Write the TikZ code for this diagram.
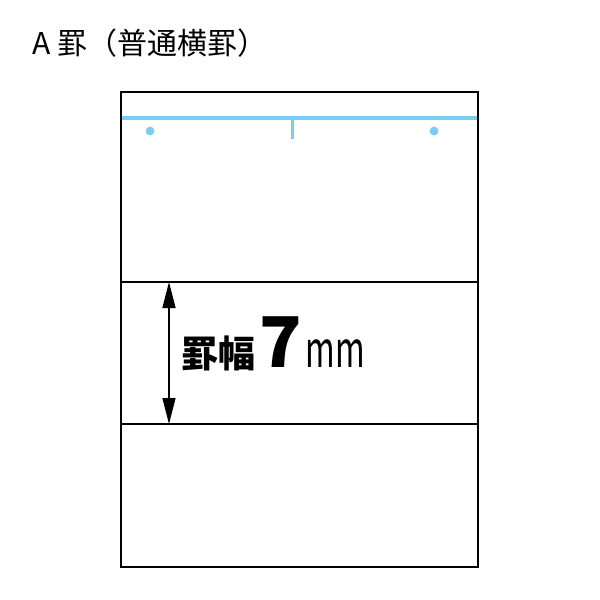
\documentclass[tikz,border=0pt]{standalone}
\usepackage{fontspec}
\newfontfamily\jpfont{Noto Sans CJK JP}
\usetikzlibrary{arrows.meta}
\definecolor{rulecyan}{RGB}{122,204,242}
\begin{document}
\begin{tikzpicture}[x=1pt,y=-1pt]
  \useasboundingbox (0,0) rectangle (600,600);
  \tikzset{sheet/.style={draw,line width=1.4pt},
    ruleline/.style={draw,line width=1.2pt},
    holedot/.style={fill=rulecyan}}

  % sheet and ruled lines
  \draw[sheet] (121,92) rectangle (478,567);
  \coordinate (l1) at (121,282);
  \coordinate (r1) at (478,282);
  \coordinate (l2) at (121,424);
  \coordinate (r2) at (478,424);
  \draw[ruleline] (l1) -- (r1);
  \draw[ruleline] (l2) -- (r2);

  % top blue margin
  \coordinate (bl) at (121.7,118);
  \coordinate (br) at (477.3,118);
  \coordinate (mid) at (292,118);
  \draw[rulecyan,line width=3.4pt] (bl) -- (br);
  \draw[rulecyan,line width=3pt] (mid) -- +(0,21);
  \fill[holedot] (150,131) circle (4.4);
  \fill[holedot] (434,131) circle (4.4);

  % ruled width
  \coordinate (atop) at (169,282);
  \coordinate (abot) at (169,424);
  \draw[line width=1.4pt,{Triangle[length=26pt,width=13pt]}-{Triangle[length=26pt,width=13pt]}] (atop) -- (abot);
  \node[anchor=base west,inner sep=0pt] (gap) at (181,367)
    {\jpfont\fontsize{37}{37}\selectfont\bfseries 罫幅};
  \node[anchor=base west,inner sep=0pt] (seven) at ([xshift=4]gap.base east)
    {\jpfont\fontsize{70}{70}\selectfont\bfseries 7};
  \node[anchor=base west,inner sep=0pt] (unit) at ([xshift=3]seven.base east)
    {\jpfont\fontsize{50}{50}\selectfont\scalebox{0.64}[1]{mm}};

  % title
  \node[anchor=base west,inner sep=0pt] (title) at (32,54)
    {\jpfont\fontsize{30}{30}\selectfont A 罫（普通横罫）};
\end{tikzpicture}
\end{document}
